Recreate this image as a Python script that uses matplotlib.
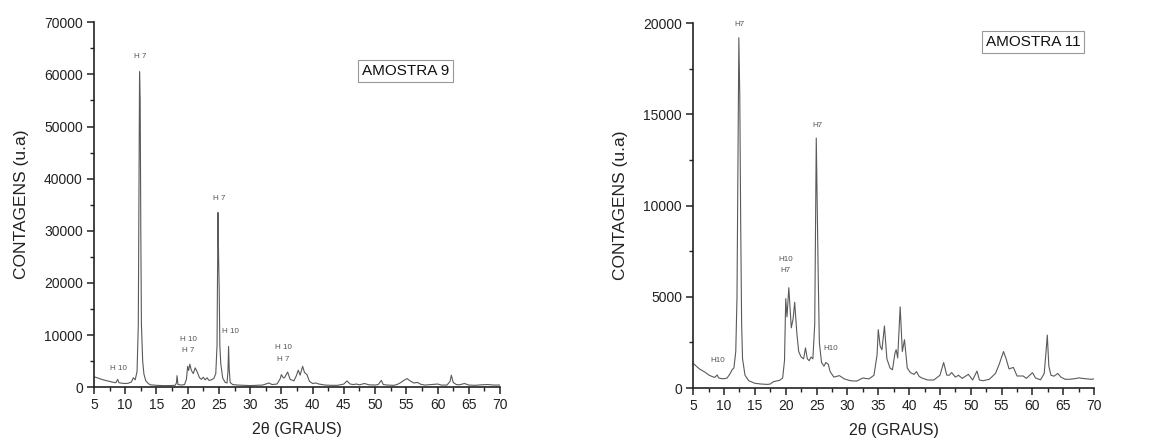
import matplotlib
matplotlib.use("Agg")
import matplotlib.pyplot as plt
from matplotlib.ticker import MultipleLocator

plt.rcParams['font.family'] = ['Liberation Sans', 'DejaVu Sans']

# ---------------- AMOSTRA 9 ----------------
a9_x = [5.0, 5.5, 6, 6.5, 7, 7.5, 8, 8.5, 8.8, 9.0, 9.5, 10, 10.5, 11.0, 11.3, 11.6, 11.9,
        12.1, 12.2, 12.3, 12.4, 12.5, 12.6, 12.8, 13.0, 13.3, 13.7, 14, 15, 16, 17, 18,
        18.2, 18.3, 18.45, 19, 19.5, 19.8, 20.0, 20.15, 20.35, 20.6, 20.9, 21.2, 21.5,
        21.9, 22.2, 22.5, 22.8, 23.1, 23.4, 23.8, 24.2, 24.5, 24.7, 24.85, 24.95, 25.05,
        25.15, 25.3, 25.6, 26.0, 26.3, 26.45, 26.55, 26.65, 26.8, 27.2, 28, 29, 30, 31,
        32, 33.0, 33.5, 34.3, 34.8, 35.0, 35.3, 35.5, 36.0, 36.4, 37.0, 37.4, 37.7, 38.0,
        38.4, 38.7, 39.1, 39.5, 40.0, 40.5, 41.0, 41.5, 42, 43, 44, 45, 45.5, 46.0, 46.5,
        47, 47.5, 48.3, 49, 50, 50.5, 51.0, 51.3, 52, 53, 53.5, 54, 54.6, 55.1, 55.6,
        56.2, 56.8, 57.3, 58, 59, 60, 60.6, 61.5, 62.0, 62.2, 62.5, 63, 63.5, 64.3, 65,
        66, 67, 68, 69, 70]
a9_y = [2000, 1800, 1600, 1400, 1250, 1100, 950, 850, 1500, 850, 750, 700, 750, 1000, 1800,
        1400, 3000, 12000, 35000, 60500, 55000, 30000, 12000, 5000, 2500, 1200, 700, 450,
        350, 300, 300, 350, 800, 2200, 500, 400, 500, 1500, 4000, 3200, 4400, 3200, 2600,
        3700, 3000, 1800, 1500, 1900, 1400, 1800, 1300, 1400, 1700, 2600, 8000, 33500,
        25000, 18500, 8000, 4500, 1800, 900, 800, 3000, 7800, 3500, 900, 500, 400, 350,
        300, 350, 400, 800, 500, 600, 1600, 2400, 1800, 1800, 2900, 1500, 1200, 2200,
        3250, 2300, 4000, 2800, 2400, 1100, 700, 800, 600, 500, 400, 350, 350, 600, 1200,
        600, 500, 600, 450, 700, 450, 400, 500, 1300, 500, 400, 350, 500, 800, 1300, 1650,
        1200, 800, 900, 550, 400, 500, 600, 400, 400, 1100, 2300, 900, 500, 450, 700, 400,
        350, 450, 500, 400, 400]
a9_labels = ["H 7", "H 7", "H 10", "H 10", "H 10\nH 7", "H 10\nH 7"]
a9_label_x = [12.4, 25.0, 26.9, 8.9, 20.1, 35.3]
a9_label_y = [63500, 36100, 10600, 3500, 8100, 6450]

# ---------------- AMOSTRA 11 ----------------
a11_x = [5.0, 5.5, 6, 6.5, 7, 7.5, 8, 8.5, 8.9, 9.1, 9.5, 10, 10.5, 11.0, 11.3, 11.6, 11.9,
         12.1, 12.25, 12.4, 12.55, 12.7, 12.85, 13.0, 13.4, 14, 15, 16, 17, 17.5, 18, 19,
         19.5, 19.8, 20.0, 20.2, 20.5, 20.9, 21.2, 21.45, 21.8, 22.1, 22.5, 22.9, 23.2,
         23.5, 23.8, 24.1, 24.4, 24.7, 24.95, 25.1, 25.25, 25.45, 25.8, 26.2, 26.5, 26.9,
         27.2, 27.8, 28.7, 29.5, 30.5, 31.5, 32.5, 33.5, 34.3, 34.8, 35.0, 35.3, 35.6,
         36.0, 36.4, 36.9, 37.3, 37.7, 37.9, 38.15, 38.55, 38.9, 39.25, 39.7, 40.2, 40.8,
         41.2, 41.6, 42, 43, 44, 45, 45.6, 46.1, 46.5, 46.9, 47.5, 48, 48.6, 49.6, 50.3,
         51.0, 51.4, 52, 53, 54, 54.6, 55.3, 55.7, 56.2, 56.9, 57.5, 58.5, 59, 60, 60.5,
         61.3, 61.9, 62.2, 62.4, 62.65, 63.0, 63.5, 64.1, 64.6, 65.3, 66, 67, 67.5, 68.3,
         69, 69.5, 70]
a11_y = [1350, 1200, 1050, 950, 850, 720, 640, 580, 720, 560, 520, 510, 550, 800, 1000,
         1100, 2000, 5000, 12000, 19200, 16000, 9000, 3500, 1600, 700, 400, 260, 220, 200,
         220, 350, 420, 550, 1500, 4900, 3900, 5500, 3300, 3800, 4700, 3000, 2000, 1700,
         1600, 2200, 1600, 1500, 1700, 1600, 3500, 13700, 10000, 6500, 2500, 1400, 1200,
         1400, 1300, 900, 600, 680, 500, 400, 380, 550, 500, 700, 1800, 3200, 2300, 2100,
         3400, 1600, 1100, 1000, 1900, 2100, 1650, 4450, 2000, 2650, 1100, 850, 750, 900,
         650, 560, 440, 440, 700, 1400, 710, 700, 850, 600, 700, 530, 750, 440, 930, 440,
         400, 480, 800, 1300, 2000, 1630, 1050, 1130, 660, 660, 530, 840, 550, 450, 800,
         2000, 2900, 1200, 700, 650, 800, 600, 480, 480, 520, 560, 520, 500, 480, 500]
a11_labels = ["H7", "H7", "H10", "H10", "H10\nH7"]
a11_label_x = [12.45, 25.1, 27.3, 9.0, 20.0]
a11_label_y = [19900, 14400, 2150, 1500, 6750]

x_ticks = list(range(5, 71, 5))

fig = plt.figure(figsize=(11.67, 4.45), dpi=100)
ax1 = fig.add_axes([0.0805, 0.130, 0.348, 0.820])
ax2 = fig.add_axes([0.594, 0.128, 0.3436, 0.820])

line_col = '#5a5a5a'
lab_col = '#555555'


def style(ax, ymax, ymajor, yminor):
    ax.set_xlim(5, 70)
    ax.set_ylim(0, ymax)
    ax.set_xticks(x_ticks)
    ax.xaxis.set_minor_locator(MultipleLocator(2.5))
    ax.yaxis.set_major_locator(MultipleLocator(ymajor))
    ax.yaxis.set_minor_locator(MultipleLocator(yminor))
    for s in ['top', 'right']:
        ax.spines[s].set_visible(False)
    for s in ['left', 'bottom']:
        ax.spines[s].set_linewidth(1.2)
        ax.spines[s].set_color('#222222')
    ax.tick_params(which='major', direction='out', length=5, width=1.1,
                   labelsize=10, colors='#222222', pad=3)
    ax.tick_params(which='minor', direction='out', length=3, width=1.0, colors='#222222')
    ax.set_xlabel('2θ (GRAUS)', fontsize=11.5, color='#222222', labelpad=7)
    ax.set_ylabel('CONTAGENS (u.a)', fontsize=12.5, color='#222222', labelpad=11)


ax1.plot(a9_x, a9_y, color=line_col, lw=0.8)
style(ax1, 70000, 10000, 5000)
for t, x, y in zip(a9_labels, a9_label_x, a9_label_y):
    ax1.text(x, y, t, fontsize=5.8, color=lab_col, ha='center', va='center',
             linespacing=1.9, clip_on=False)
ax1.text(0.768, 0.866, 'AMOSTRA 9', transform=ax1.transAxes, fontsize=11,
         ha='center', va='center', color='#111111',
         bbox=dict(boxstyle='square,pad=0.25', fc='white', ec='#999999', lw=0.8))

ax2.plot(a11_x, a11_y, color=line_col, lw=0.8)
style(ax2, 20000, 5000, 2500)
for t, x, y in zip(a11_labels, a11_label_x, a11_label_y):
    ax2.text(x, y, t, fontsize=5.8, color=lab_col, ha='center', va='center',
             linespacing=1.9, clip_on=False)
ax2.text(0.847, 0.949, 'AMOSTRA 11', transform=ax2.transAxes, fontsize=11,
         ha='center', va='center', color='#111111',
         bbox=dict(boxstyle='square,pad=0.25', fc='white', ec='#999999', lw=0.8))

fig.savefig('out.png', dpi=100)
